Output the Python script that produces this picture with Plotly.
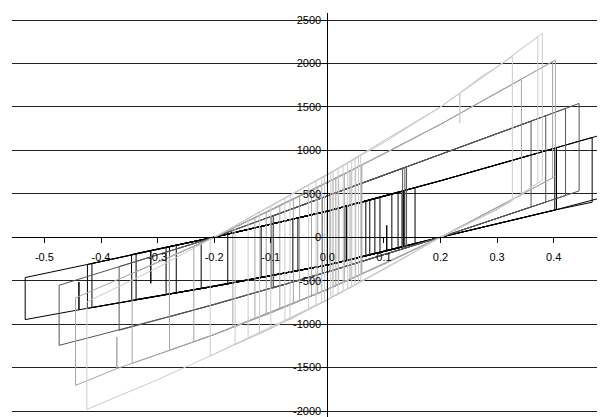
import plotly.graph_objects as go

# ---- data ----
s1_x = [-0.05, 0.035, 0.035, 0.031, 0.031, 0.034, 0.034, 0.030, 0.030, 0.068, 0.068, 0.0, -0.061, -0.061, 0.0,
        0.084, 0.084, 0.0, -0.052, -0.052, 0.0, 0.114, 0.114, 0.105, 0.105, 0.105, 0.0, -0.1, -0.117, -0.117,
        0.0, 0.125, 0.125, 0.0, -0.176, -0.176, 0.0, 0.155, 0.155, 0.0, -0.2, -0.223, -0.223, 0.0, 0.2, 0.4,
        0.48, 0.48, 0.4, 0.2, 0.0, -0.2, -0.4, -0.439, -0.439, -0.439, -0.534, -0.534, -0.4, -0.312, -0.312,
        -0.312, -0.2, 0.0, 0.2, 0.4, 0.468, 0.468, 0.4, 0.2, 0.0, -0.2, -0.4, -0.424, -0.424, -0.4, -0.2, 0.0,
        0.2, 0.4, 0.405, 0.405, 0.4, 0.2, 0.0, -0.2, -0.4, -0.416, -0.416, -0.4, -0.2, 0.0, 0.2, 0.4, 0.402,
        0.402, 0.2, 0.0, -0.2, -0.346, -0.346, -0.2, 0.0, 0.136, 0.136, 0.0, -0.2, -0.338, -0.338, -0.2, 0.0,
        0.132, 0.132, 0.0, -0.2, -0.285, -0.285, -0.2, 0.0, 0.134, 0.134, 0.0, -0.2, -0.279, -0.279, -0.2, 0.0,
        0.135, 0.135, 0.0, -0.2, -0.267, -0.267, -0.2, 0.0, 0.093, 0.093, 0.0, 0.0, 0.075, 0.075, 0.02, 0.02,
        0.05]
s1_y = [225, 360, -268, -273, 353, 358, -269, -275, 351, 416, -216, -320, -396, 209, 300,
        443, -191, -320, -385, 222, 300, 495, -143, -157, 138, -157, -320, -445, -465, 125,
        300, 515, -125, -320, -536, 36, 300, 569, -77, -320, -565, -590, -31, 300, 650, 1020,
        1170, 447, 310, 0, -320, -565, -790, -835, -515, -835, -948, -464, -280, -152, -530,
        -152, 0, 300, 650, 1020, 1148, 403, 310, 0, -320, -565, -790, -819, -314, -280, 0, 300,
        650, 1020, 1029, 319, 310, 0, -320, -565, -790, -809, -302, -280, 0, 300, 650, 1020, 1024,
        313, 0, -320, -565, -726, -199, 0, 300, 535, -107, -320, -565, -717, -188, 0, 300,
        528, -113, -320, -565, -659, -115, 0, 300, 531, -110, -320, -565, -652, -107, 0, 300,
        533, -109, -320, -565, -639, -91, 0, 300, 457, -176, -320, 300, 428, -205, -290, 334,
        385]

s2_x = [-0.05, 0.005, 0.005, -0.009, -0.009, 0.1, 0.14, 0.14, 0.1, 0.0, -0.095, -0.095, 0.0, 0.133, 0.133,
        0.0, -0.1, -0.1, 0.0, 0.2, 0.3, 0.36, 0.445, 0.445, 0.36, 0.2, 0.0, -0.2, -0.4, -0.474, -0.474,
        -0.4, -0.2, 0.0, 0.2, 0.36, 0.421, 0.421, 0.36, 0.2, 0.0, -0.2, -0.368, -0.368, -0.2, 0.0, 0.2,
        0.36, 0.386, 0.386, 0.36, 0.2, 0.0, -0.2, -0.279, -0.279, -0.2, 0.0, 0.2, 0.36, 0.36, 0.2, 0.0,
        -0.098, -0.098, 0.0, 0.137, 0.137, 0.0, -0.01, -0.01, 0.06, 0.06]
s2_y = [355, 487, -390, -417, 454, 715, 811, -120, -200, -400, -581, 247, 475, 794, -134,
        -400, -590, 235, 475, 955, 1200, 1335, 1540, 533, 349, 0, -400, -775, -1120, -1244, -553,
        -403, 0, 475, 955, 1335, 1482, 481, 349, 0, -400, -775, -1071, -339, 0, 475, 955,
        1335, 1398, 405, 349, 0, -400, -775, -917, -160, 0, 475, 955, 1335, 349, 0, -400,
        -586, 240, 475, 804, -126, -400, -420, 451, 619, -280]

s3_x = [-0.05, 0.01, 0.01, -0.028, -0.028, 0.043, 0.043, 0.0, -0.084, -0.084, 0.0, 0.061, 0.061, 0.0,
        -0.1, -0.167, -0.167, -0.1, 0.0, 0.1, 0.2, 0.3, 0.403, 0.403, 0.3, 0.2, 0.1, 0.0, -0.1, -0.2, -0.3,
        -0.372, -0.372, -0.372, -0.445, -0.445, -0.4, -0.3, -0.2, 0.0, 0.2, 0.3, 0.343, 0.343, 0.3, 0.2,
        0.0, -0.2, -0.3, -0.345, -0.345, -0.3, -0.2, 0.0, 0.06, 0.06, 0.0, -0.2, -0.279, -0.279, -0.2, 0.0,
        0.04, 0.04, 0.0, -0.2, -0.236, -0.236, -0.2, 0.0, 0.05, 0.05, 0.0, -0.108, -0.108, 0.0, 0.02, 0.02,
        0.0, -0.049, -0.049, 0.0, 0.0, -0.017, -0.017, 0.005,
        0.1, 0.2, 0.3, 0.398, 0.398, 0.3, 0.2, 0.1, 0.0, -0.1, -0.128, -0.128, 0.0, 0.03, 0.03, 0.0,
        -0.06, -0.06, -0.005, -0.005, -0.01, -0.01, 0.0, 0.015, 0.015]
s3_y = [470, 663, -571, -676, 542, 772, -475, -600, -827, 360, 630, 831, -423, -600,
        -870, -1037, 102, 310, 630, 960, 1300, 1660, 2039, 700, 340, 0, -310, -600, -870, -1120, -1350,
        -1512, -1148, -1512, -1705, -699, -570, -290, 0, 630, 1300, 1660, 1818, 490, 340, 0,
        -600, -1120, -1350, -1452, -416, -290, 0, 630, 828, -426, -600, -1120, -1302, -229, 0, 630,
        762, -484, -600, -1120, -1203, -104, 0, 630, 795, -455, -600, -890, 285, 630, 696, -542,
        -600, -732, 478, 630, -600, -646, 577, 647,
        960, 1300, 1660, 2021, 683, 340, 0, -310, -600, -870, -940, 223, 630, 729, -513, -600,
        -762, 444, 614, -614, -627, 599, 630, 680, -556]

s4_x = [-0.03, 0.036, 0.036, 0.0, -0.066, -0.066, 0.0, 0.059, 0.059, 0.0, -0.075, -0.075, 0.0, 0.049,
        0.049, 0.0, -0.1, -0.163, -0.163, -0.1, 0.0, 0.1, 0.2, 0.234, 0.234, 0.234, 0.27, 0.3, 0.38, 0.38,
        0.3, 0.2, 0.1, 0.0, -0.1, -0.2, -0.3, -0.425, -0.425, -0.3, -0.2, 0.0, 0.2, 0.3, 0.327, 0.327, 0.3,
        0.2, 0.0, -0.2, -0.207, -0.207, -0.2, 0.0, 0.043, 0.043, 0.0, -0.01, -0.01, 0.0, 0.019, 0.019, 0.0,
        -0.1, -0.1, 0.0, 0.01, 0.01, 0.0, -0.033, -0.033,
        0.0, 0.006, 0.006, 0.0, -0.005, -0.005, 0.0, 0.2, 0.3, 0.372, 0.372, 0.3, 0.2, 0.1, 0.0, -0.1,
        -0.12, -0.12, 0.0, 0.028, 0.028, 0.0, -0.1, -0.14, -0.14, 0.0, 0.055, 0.055, 0.0, -0.02, -0.02, 0.0]
s4_y = [612, 853, -594, -720, -948, 482, 720, 938, -513, -720, -976, 450, 720, 901,
        -548, -720, -1050, -1236, 133, 360, 720, 1090, 1500, 1660, 1313, 1660, 1840, 1960, 2347, 657,
        320, 0, -370, -720, -1050, -1345, -1640, -1981, -745, -350, 0, 720, 1500, 1960, 2080, 420, 320,
        0, -720, -1345, -1366, -25, 0, 720, 879, -570, -720, -753, 684, 720, 790, -653, -720,
        -1050, 360, 720, 757, -685, -720, -820, 601,
        720, 742, -699, -720, -737, 702, 720, 1500, 1960, 2308, 623, 320, 0, -370, -720, -1050,
        -1109, 288, 720, 824, -622, -720, -1050, -1168, 216, 720, 924, -527, -720, -787, 648, 720]

series_colors = ["#000000", "#555555", "#a6a6a6", "#cccccc"]

x_ticks = [-0.5, -0.4, -0.3, -0.2, -0.1, 0.0, 0.1, 0.2, 0.3, 0.4]
x_labels = ["-0.5", "-0.4", "-0.3", "-0.2", "-0.1", "0.0", "0.1", "0.2", "0.3", "0.4"]
y_ticks = [2500, 2000, 1500, 1000, 500, 0, -500, -1000, -1500, -2000]
y_labels = ["2500", "2000", "1500", "1000", "500", "0", "-500", "-1000", "-1500", "-2000"]

# ---- figure ----
fig = go.Figure()
for xs, ys, col in [(s1_x, s1_y, series_colors[0]), (s2_x, s2_y, series_colors[1]),
                    (s3_x, s3_y, series_colors[2]), (s4_x, s4_y, series_colors[3])]:
    fig.add_trace(go.Scatter(x=xs, y=ys, mode="lines", line=dict(color=col, width=1),
                             hoverinfo="skip", showlegend=False))

x_range = [-0.5573, 0.4907]
y_range = [-2069, 2581]
y_axis_pos = (0 - x_range[0]) / (x_range[1] - x_range[0])
x_axis_pos = (0 - y_range[0]) / (y_range[1] - y_range[0])

# the page body has an 8px margin, so the figure is drawn 8px smaller and offset
fig.update_layout(
    width=597, height=409,
    margin=dict(l=4, r=0, t=5, b=0, pad=0),
    plot_bgcolor="white", paper_bgcolor="white",
    font=dict(family="Arial, 'Liberation Sans', sans-serif", size=11, color="#000"),
    xaxis=dict(range=x_range, anchor="free", position=x_axis_pos, showgrid=False, zeroline=False,
               showline=True, linecolor="#000", linewidth=1, ticks="outside", ticklen=5,
               tickcolor="#000", tickwidth=1, tickvals=x_ticks, ticktext=x_labels,
               ticklabelstandoff=5, fixedrange=True),
    yaxis=dict(range=y_range, anchor="free", position=y_axis_pos, showgrid=True, gridcolor="#222",
               gridwidth=1, zeroline=False, showline=True, linecolor="#000", linewidth=1,
               ticks="outside", ticklen=4, tickcolor="#000", tickwidth=1, tickvals=y_ticks,
               ticktext=y_labels, fixedrange=True),
)

fig.write_html("out.html")
